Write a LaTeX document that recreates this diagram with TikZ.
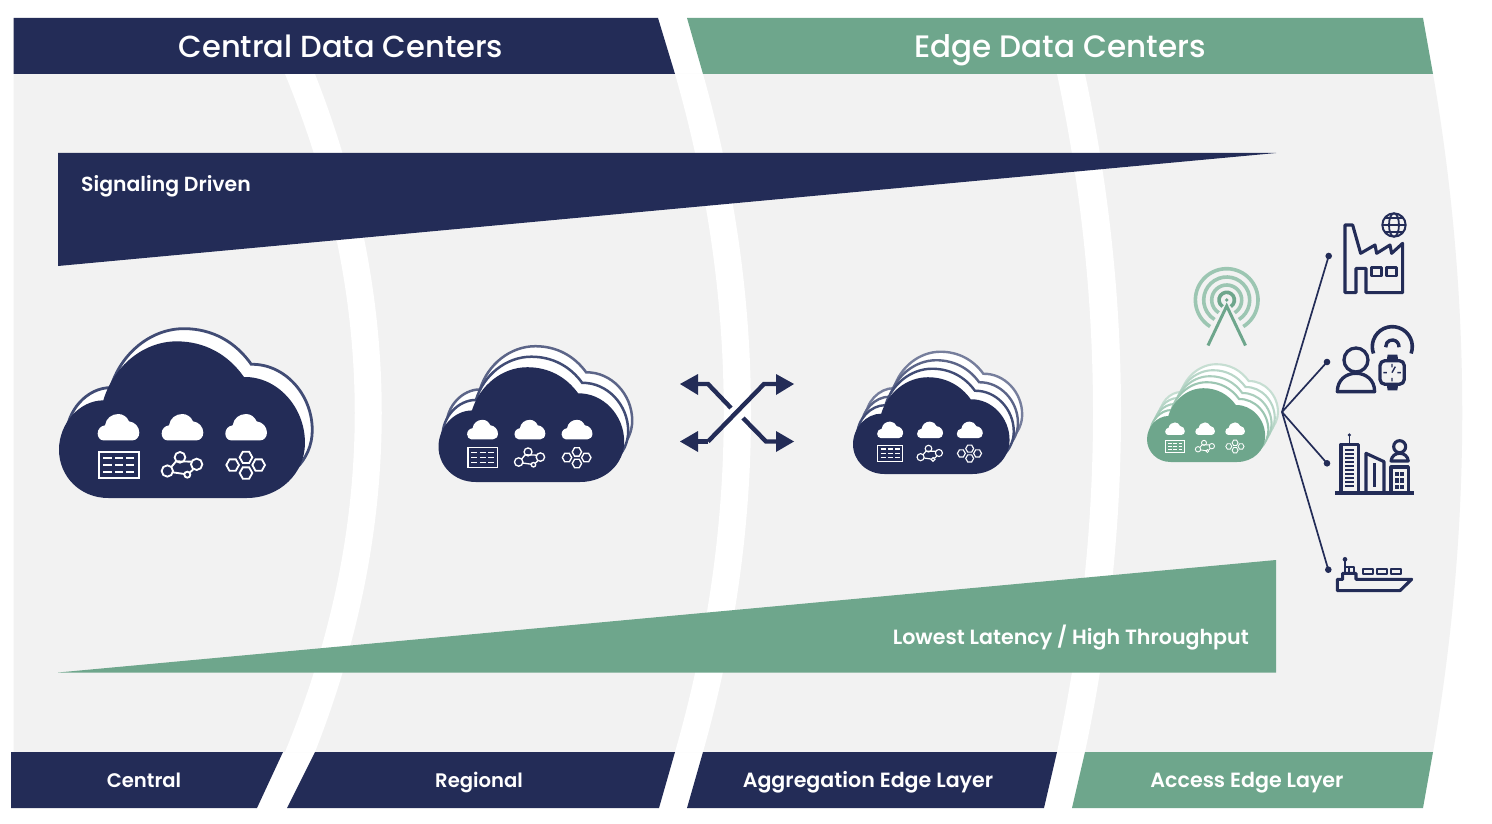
\documentclass[tikz,border=0pt]{standalone}
\usepackage{fontspec}
\setmainfont{Poppins}[UprightFont=* Medium,BoldFont=* SemiBold]
\definecolor{navy}{HTML}{232C57}
\definecolor{sage}{HTML}{6EA68C}
\definecolor{panel}{HTML}{F2F2F2}
\definecolor{navyline}{HTML}{414C75}
\definecolor{sageline}{HTML}{9CC6B2}
\tikzset{
  headtext/.style={text=white,inner sep=0pt,anchor=base,font=\fontsize{30.5}{36}\selectfont},
  labeltext/.style={text=white,inner sep=0pt,anchor=base,font=\bfseries\fontsize{20.6}{24}\selectfont},
  shortlabel/.style={labeltext,font=\bfseries\fontsize{19.6}{24}\selectfont},
  tip/.style={fill=navy,draw=none},
  iconline/.style={draw=navy,line width=3.1pt,line join=round,fill=none},
  link/.style={draw=navy,line width=1.7pt},
  dot/.style={fill=navy,draw=none},
}
\newcommand{\cloudshape}[1]{\path[#1] (148,0) .. controls (63,0) and (0,-65) .. (0,-145)
  .. controls (0,-225) and (63,-293) .. (133,-293)
  .. controls (163,-395) and (253,-470) .. (353,-470)
  .. controls (438,-470) and (508,-430) .. (555,-363)
  .. controls (653,-365) and (738,-275) .. (738,-165)
  .. controls (738,-75) and (663,0) .. (563,0) -- cycle;}
\newcommand{\smallcloud}[2]{\fill[white,shift={(#1,0)}] (190,392) .. controls (180,392) and (173,382) .. (173,372)
  .. controls (173,358) and (182,349) .. (195,347)
  .. controls (198,326) and (215,313) .. (235,313)
  .. controls (250,313) and (261,322) .. (267,335)
  .. controls (285,337) and (298,352) .. (298,369)
  .. controls (298,383) and (288,392) .. (278,392) -- cycle;}
\newcommand{\hexa}[2]{(#1+19,#2) -- (#1+9.5,#2-17) -- (#1-9.5,#2-17) -- (#1-19,#2) -- (#1-9.5,#2+17) -- (#1+9.5,#2+17) -- cycle}
% x, y, icon scale, number of back clouds, dx, dy, fill, outline, outline width
% \bodyx and \bodyy widen or flatten the cloud body relative to its icons
\newcommand{\bodyx}{1}\newcommand{\bodyy}{1}
\newcommand{\cloudstack}[9]{
  \foreach \i in {#4,...,1}{
    \pgfmathtruncatemacro{\pct}{100-14*(\i-1)}
    \begin{scope}[shift={({#1+\i*#5},{#2-\i*#6})},xscale=#3*\bodyx,yscale=#3*\bodyy]
      \cloudshape{fill=white,draw=#8!\pct!white,line width=#9}
    \end{scope}
  }
  \begin{scope}[shift={(#1,#2)},xscale=#3*\bodyx,yscale=#3*\bodyy]
    \cloudshape{fill=#7}
  \end{scope}
  \begin{scope}[shift={(#1,#2)},scale=#3]
    \begin{scope}[shift={(-57,-565)}]
      \smallcloud{0}{}\smallcloud{192}{}\smallcloud{383}{}
      \begin{scope}[line width=#3*5.5pt]
        \draw[white] (176,426) rectangle (296,506);
        \foreach \yy in {445,465,486}{
          \draw[white] (190,\yy) -- (215,\yy) (225,\yy) -- (250,\yy) (258,\yy) -- (283,\yy);
        }
        \draw[white] (420,443) circle[radius=16] (470,464) circle[radius=17] (382,484) circle[radius=17] (442,495) circle[radius=9];
        \draw[white] (394,472) -- (408,455) (409,455) -- (455,456) (398,488) -- (433,493) (449,489) -- (460,479);
        \draw[white] \hexa{618}{443} \hexa{578}{466} \hexa{656}{466} \hexa{618}{490};
      \end{scope}
    \end{scope}
  \end{scope}
}
\begin{document}
\begin{tikzpicture}[x=1pt,y=-1pt]
\useasboundingbox (0,0) rectangle (1492,824);
\fill[white] (0,0) rectangle (1492,824);
% panel and white bands
\fill[panel] (13.5,74) -- (1433,74) .. controls (1472,300) and (1472,526) .. (1433,752) -- (13.5,752) -- cycle;
\fill[white] (285,74) .. controls (378,300) and (378,526) .. (285,752) -- (315,752) .. controls (404,526) and (404,300) .. (315,74) -- cycle;
\fill[white] (675,74) .. controls (740,300) and (740,526) .. (675,752) -- (703,752) .. controls (767,526) and (767,300) .. (703,74) -- cycle;
\fill[white] (1057,74) .. controls (1105,300) and (1105,526) .. (1057,752) -- (1085,752) .. controls (1133,526) and (1133,300) .. (1085,74) -- cycle;
% headers
\fill[navy] (13.5,18) -- (658,18) -- (675,74) -- (13.5,74) -- cycle;
\fill[sage] (687,18) -- (1423,18) -- (1433,74) -- (703,74) -- cycle;
\node[headtext] (hcentral) at (341,58) {Central Data Centers};
\node[headtext,font=\fontsize{31}{36}\selectfont] (hedge) at (1060,58) {Edge Data Centers};
% footers
\fill[navy] (11,752) -- (283,752) -- (257,808) -- (11,808) -- cycle;
\fill[navy] (315,752) -- (675,752) -- (659,808) -- (287,808) -- cycle;
\fill[navy] (703,752) -- (1057,752) -- (1044,808) -- (687,808) -- cycle;
\fill[sage] (1085,752) -- (1433,752) -- (1423,808) -- (1072,808) -- cycle;
\node[shortlabel] (lcentral) at (144,787) {Central};
\node[shortlabel] (lregional) at (479,787) {Regional};
\node[labeltext] (laggr) at (868,787) {Aggregation Edge Layer};
\node[labeltext] (laccess) at (1247,787) {Access Edge Layer};
% wedges
\fill[navy] (58,153) -- (1276,153) -- (58,266) -- cycle;
\fill[sage] (58,672.5) -- (1276,560) -- (1276,672.5) -- cycle;
\node[labeltext,anchor=base west,font=\bfseries\fontsize{20.4}{24}\selectfont] (signal) at (81,191) {Signaling Driven};
\node[labeltext,anchor=base east] (latency) at (1249,644) {Lowest Latency / High Throughput};
% clouds
\cloudstack{59}{498}{0.3333}{1}{7.3}{12.7}{navy}{navyline}{2.8pt}
\renewcommand{\bodyx}{1.02}\renewcommand{\bodyy}{0.99}
\cloudstack{438.5}{482}{0.2467}{2}{4}{10.5}{navy}{navyline}{2.5pt}
\cloudstack{853}{474}{0.208}{3}{4.2}{8.5}{navy}{navyline}{2.4pt}
\renewcommand{\bodyy}{1}
\cloudstack{1147}{462}{0.157}{4}{3.2}{6}{sage}{sageline}{2.1pt}
% cross arrows
\draw[navy,line width=4.4pt,line join=miter] (731,408) -- (708,384) -- (697,384);
\fill[tip] (680,384) -- (698,374) -- (698,395) -- cycle;
\draw[navy,line width=4.4pt] (708,441.5) -- (764,384) -- (777,384);
\fill[tip] (794,384) -- (776,374) -- (776,395) -- cycle;
\draw[navy,line width=4.4pt] (708,441.5) -- (697,441.5);
\fill[tip] (680,441.5) -- (698,431) -- (698,452) -- cycle;
\draw[navy,line width=4.4pt] (743,418) -- (766,441.5) -- (777,441.5);
\fill[tip] (794,441.5) -- (776,431) -- (776,452) -- cycle;
% antenna
\foreach \r/\c in {31.3/sageline,23/sageline,15/sageline,7.7/sage}{
  \draw[\c,line width=3.6pt] (1226.7,300) ++(-58:\r pt) arc[start angle=-58,end angle=238,radius=\r pt];
}
\fill[sage] (1226.7,300) circle[radius=1.8];
\draw[sage,line width=3pt] (1208,345.5) -- (1226.7,306) -- (1245.5,345.5);
% connectors
\coordinate (hub) at (1282,412);
\coordinate (ep1) at (1328.7,256);
\coordinate (ep2) at (1327,362);
\coordinate (ep3) at (1327,463.3);
\coordinate (ep4) at (1328.3,569.7);
\foreach \e in {ep1,ep2,ep3,ep4}{
  \draw[link] (hub) -- (\e);
  \fill[dot] (\e) circle[radius=3.3];
}
% factory + globe + person + watch (zoom 2 coordinates)
\begin{scope}[shift={(1130,200)},scale=0.3333]
  \draw[iconline] (645,278) -- (645,75) -- (668,75) -- (692,160) -- (735,135) -- (740,160) -- (780,135) -- (785,160) -- (818,130) -- (818,278) -- (708,278) -- (708,205) -- (678,205) -- (678,278) -- cycle;
  \draw[iconline,line width=2.6pt] (725,202) rectangle (755,228) (770,202) rectangle (800,228);
  \draw[iconline,line width=2pt] (792,75) circle[radius=35];
  \draw[iconline,line width=1.8pt] (792,75) ellipse[x radius=15,y radius=35];
  \draw[iconline,line width=1.8pt] (757,75) -- (827,75) (762,55) -- (822,55) (762,95) -- (822,95);
  \draw[iconline,line width=3.3pt] (678,480) circle[radius=36];
  \draw[iconline,line width=3.3pt] (622,575) .. controls (622,540) and (648,520) .. (678,520) .. controls (708,520) and (734,540) .. (734,575) -- cycle;
  \draw[iconline,line width=3.3pt,rounded corners=5pt] (750,482) rectangle (823,553);
  \fill[navy] (770,482) -- (773,464) -- (802,464) -- (805,482) -- cycle;
  \fill[navy] (770,553) -- (773,571) -- (802,571) -- (805,553) -- cycle;
  \draw[navy,line width=1.4pt] (786,492) -- (786,502) (786,534) -- (786,544) (760,518) -- (771,518) (802,518) -- (813,518) (786,518) -- (796,500);
  \draw[iconline,line width=3.6pt] (787,440) ++(-20:60pt) arc[start angle=-20,end angle=200,radius=60pt];
  \draw[iconline,line width=3.4pt] (787,440) ++(-5:20pt) arc[start angle=-5,end angle=185,radius=20pt];
\end{scope}
% buildings + ship (zoom 3 coordinates)
\begin{scope}[shift={(1270,400)},scale=0.3333]
  \fill[navy] (195,272) rectangle (432,285);
  \draw[iconline] (213,275) -- (213,133) -- (265,133) -- (265,275);
  \draw[iconline,line width=1.5pt] (238,105) -- (238,133);
  \fill[navy] (238,105) circle[radius=5.5];
  \foreach \yy in {150,162,174,186,198,210,222,234,246,258}{
    \draw[navy,line width=1.3pt] (225,\yy) -- (252,\yy);
  }
  \draw[iconline] (288,275) -- (288,160) -- (342,185) -- (342,275);
  \draw[navy,line width=3pt] (312,190) -- (312,262);
  \draw[iconline] (363,275) -- (363,201) -- (415,201) -- (415,275);
  \foreach \xx in {375,390}{\foreach \yy in {215,235,255}{
    \fill[navy] (\xx,\yy) rectangle ++(12,13);
  }}
  \draw[iconline] (389,140) circle[radius=18];
  \draw[iconline] (363,183) .. controls (365,168) and (376,160) .. (389,160) .. controls (402,160) and (413,168) .. (415,183) -- cycle;
  \draw[iconline] (202,538) -- (218,538) -- (218,520) -- (258,520) -- (258,538) -- (425,538) -- (390,572) -- (202,572) -- cycle;
  \draw[iconline,line width=2.2pt] (225,502) rectangle (252,520);
  \draw[navy,line width=1.8pt] (238,502) -- (238,520);
  \draw[navy,line width=2pt] (225,478) -- (225,520);
  \fill[navy] (225,478) circle[radius=7];
  \draw[iconline,line width=1.7pt] (280,507) rectangle (310,522) (320,507) rectangle (350,522) (362,507) rectangle (392,522);
\end{scope}
\end{tikzpicture}
\end{document}
